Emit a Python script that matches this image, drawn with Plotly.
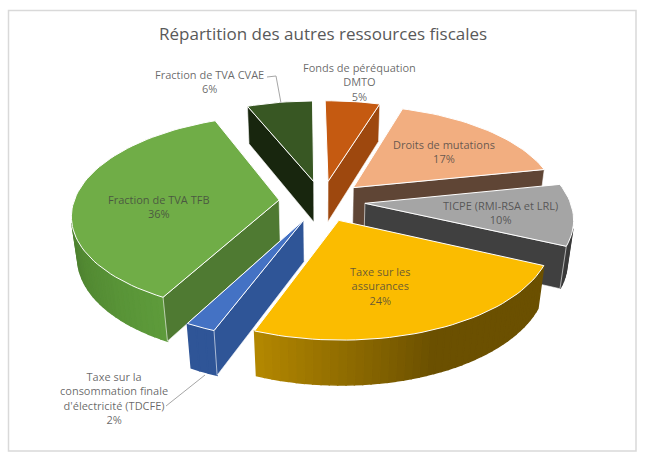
import math
import plotly.graph_objects as go

# Parts of the "autres ressources fiscales", clockwise from twelve o'clock
names = ["Fonds de péréquation DMTO", "Droits de mutations", "TICPE (RMI-RSA et LRL)",
         "Taxe sur les assurances", "Taxe sur la consommation finale d'électricité (TDCFE)",
         "Fraction de TVA TFB", "Fraction de TVA CVAE"]
values = [5, 17, 10, 24, 2, 36, 6]

top_colors = ["#C55A11", "#F2AE80", "#A5A5A5", "#FBBC00", "#4472C4", "#70AD47", "#385723"]
cut_colors = ["#9E480E", "#5F4535", "#404040", "#6B5000", "#2F5597", "#4F7A32", "#18260E"]
# Rim shading: (position along the slice's arc, colour)
rim_colors = [
    [(0, "#9E480E"), (1, "#9E480E")],
    [(0, "#5F4535"), (1, "#5F4535")],
    [(0, "#3A3A3A"), (1, "#3A3A3A")],
    [(0, "#6B5000"), (0.5, "#6B5000"), (1, "#B48800")],
    [(0, "#2F5597"), (1, "#2F5597")],
    [(0, "#5E9C3B"), (0.45, "#4A7C2D"), (1, "#4A7C2D")],
    [(0, "#18260E"), (1, "#18260E")],
]

TITLE = "Répartition des autres ressources fiscales"
TEXT_COLOR = "rgba(64,64,64,0.78)"

# Perspective model of the exploded pie
CX, CY = 322, 201
RX, RY = 205, 97
DEPTH = 42
EXPLODE = 0.21
PERSP_Y, PERSP_Z = 0.14, 0.025
START_ANGLE = -0.7
STEP_DEG = 2
MIN_FACE_AREA = 150  # radial cuts seen nearly edge-on are left out


def project(x, y, down):
    w = 1 + PERSP_Y * y + PERSP_Z * down
    return CX + RX * x / w, CY - RY * y / w + DEPTH * down / w


def hex_rgb(c):
    return tuple(int(c[i:i + 2], 16) for i in (1, 3, 5))


def ramp(stops, t):
    for (t0, c0), (t1, c1) in zip(stops, stops[1:]):
        if t <= t1:
            f = (t - t0) / (t1 - t0)
            a, b = hex_rgb(c0), hex_rgb(c1)
            return "rgb(%d,%d,%d)" % tuple(round(p + (q - p) * f) for p, q in zip(a, b))
    return stops[-1][1]


def polygon(points, fill, line=None, width=1.0):
    xs = [p[0] for p in points] + [points[0][0]]
    ys = [p[1] for p in points] + [points[0][1]]
    return go.Scatter(x=xs, y=ys, mode="lines", fill="toself", fillcolor=fill,
                      line=dict(color=line or fill, width=width),
                      hoverinfo="skip", showlegend=False)


def signed_area(pts):
    return sum(a[0] * b[1] - b[0] * a[1] for a, b in zip(pts, pts[1:] + pts[:1])) / 2


fig = go.Figure()

# Turn the values into angular spans
total = sum(values)
slices = []
start = START_ANGLE
for i, v in enumerate(values):
    sweep = 360 * v / total
    slices.append((i, start, start + sweep))
    start += sweep

# Paint from the back of the pie towards the viewer
for i, a0, a1 in sorted(slices, key=lambda s: -math.cos(math.radians((s[1] + s[2]) / 2))):
    mid = math.radians((a0 + a1) / 2)
    ox, oy = EXPLODE * math.sin(mid), EXPLODE * math.cos(mid)
    n = max(2, int((a1 - a0) / STEP_DEG))
    angles = [math.radians(a0 + (a1 - a0) * j / n) for j in range(n + 1)]
    rim = [(ox + math.sin(t), oy + math.cos(t)) for t in angles]

    # Outer wall, one shaded strip per step
    for j in range(n):
        quad = [project(*rim[j], 0), project(*rim[j + 1], 0),
                project(*rim[j + 1], 1), project(*rim[j], 1)]
        if signed_area(quad) > 0:
            continue
        fig.add_trace(polygon(quad, ramp(rim_colors[i], (j + 0.5) / n), width=1.5))

    # The two radial cuts, kept only when they face the viewer
    for edge, sign in ((rim[0], -1), (rim[-1], 1)):
        quad = [project(ox, oy, 0), project(*edge, 0), project(*edge, 1), project(ox, oy, 1)]
        if sign * signed_area(quad) > MIN_FACE_AREA:
            fig.add_trace(polygon(quad, cut_colors[i], "#FFFFFF", 0.6))

    # Top face
    top = [project(ox, oy, 0)] + [project(*p, 0) for p in rim]
    fig.add_trace(polygon(top, top_colors[i], "#FFFFFF", 1.0))

# Leader lines
for lx, ly in (([267, 276, 281], [77, 76, 103]), ([166, 205], [406, 375])):
    fig.add_trace(go.Scatter(x=lx, y=ly, mode="lines", line=dict(color="#A6A6A6", width=1),
                             hoverinfo="skip", showlegend=False))

labels = [
    ("Fonds de péréquation<br>DMTO<br>5%", 359, 82),
    ("Droits de mutations<br>17%", 444, 151),
    ("TICPE (RMI-RSA et LRL)<br>10%", 500, 212),
    ("Taxe sur les<br>assurances<br>24%", 380, 286),
    ("Taxe sur la<br>consommation finale<br>d'électricité (TDCFE)<br>2%", 114, 398),
    ("Fraction de TVA TFB<br>36%", 159, 206),
    ("Fraction de TVA CVAE<br>6%", 209, 81),
]
for text, x, y in labels:
    fig.add_annotation(x=x, y=y, text=text, showarrow=False, xanchor="center", yanchor="middle",
                       align="center", font=dict(family="Open Sans", size=11, color=TEXT_COLOR))

fig.add_annotation(x=323, y=33, text=TITLE, showarrow=False, xanchor="center", yanchor="middle",
                   font=dict(family="Open Sans", size=17, color="#595959"))

fig.add_shape(type="rect", x0=8.5, y0=10.5, x1=636, y1=451, line=dict(color="#D9D9D9", width=1.5),
              layer="below")

fig.update_layout(
    width=646, height=466, margin=dict(l=0, r=0, t=0, b=0),
    paper_bgcolor="#FFFFFF", plot_bgcolor="#FFFFFF", showlegend=False,
    xaxis=dict(range=[0, 646], visible=False, fixedrange=True),
    yaxis=dict(range=[466, 0], visible=False, fixedrange=True),
)

fig.write_html("out.html")
